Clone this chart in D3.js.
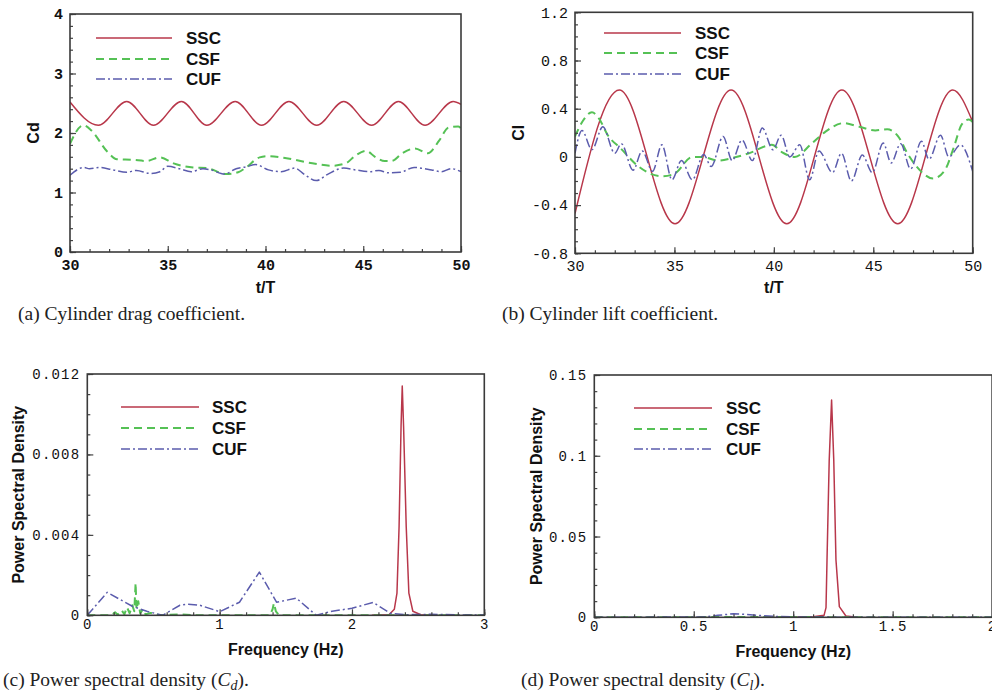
<!DOCTYPE html>
<html>
<head>
<meta charset="utf-8">
<script src="https://cdn.jsdelivr.net/npm/d3@7"></script>
<style>
  body { margin: 0; background: #fff; }
  svg { display: block; }
</style>
</head>
<body>
<div id="fig"></div>
<script>
// ---------- data ----------

// (a) drag coefficient vs t/T
const cdSSC = [[30,2.52],[31.45,2.13],[32.9,2.53],[34.27,2.13],[35.7,2.53],[37.0,2.13],[38.45,2.53],[39.8,2.13],[41.2,2.53],[42.62,2.13],[44.0,2.53],[45.43,2.13],[46.8,2.53],[48.16,2.13],[49.6,2.53],[50,2.48]]
const cdCSF = [[30,1.82],[30.68,2.13],[31.1,2.04],[31.9,1.69],[32.4,1.56],[33.2,1.55],[33.9,1.53],[34.6,1.59],[35.3,1.49],[36.3,1.42],[37.0,1.41],[38.0,1.31],[38.6,1.34],[39.0,1.42],[39.7,1.59],[40.1,1.61],[41.0,1.58],[42.4,1.49],[43.4,1.45],[44.1,1.49],[44.6,1.62],[45.15,1.70],[45.6,1.60],[46.1,1.53],[46.45,1.53],[47.0,1.66],[47.65,1.74],[48.3,1.66],[48.9,1.88],[49.35,2.09],[49.85,2.11],[50,2.08]]
const cdCUF = [[30,1.29],[30.7,1.42],[31.0,1.40],[31.5,1.42],[32.2,1.38],[32.9,1.34],[33.4,1.37],[34.1,1.32],[34.6,1.35],[35.0,1.44],[35.6,1.40],[36.2,1.35],[36.8,1.40],[37.2,1.38],[37.9,1.31],[38.5,1.40],[39.0,1.43],[39.5,1.47],[40.15,1.38],[40.8,1.35],[41.5,1.41],[42.0,1.30],[42.6,1.20],[43.2,1.31],[44.0,1.41],[44.6,1.38],[45.3,1.35],[45.8,1.37],[46.3,1.33],[46.9,1.34],[47.6,1.42],[48.5,1.38],[49.0,1.35],[49.5,1.40],[50,1.35]]

// (b) lift coefficient vs t/T
const clSSC = [[30,-0.47],[32.23,0.555],[35.03,-0.555],[37.85,0.555],[40.65,-0.555],[43.42,0.555],[46.23,-0.555],[49.0,0.555],[50,0.29]]
const clCSF = [[30,0.17],[30.4,0.30],[30.85,0.37],[31.2,0.32],[31.65,0.18],[32.3,0.07],[33.2,-0.08],[33.8,-0.14],[34.4,-0.16],[35.0,-0.14],[35.9,0.0],[36.4,0.0],[37.2,-0.03],[37.9,-0.01],[38.9,0.04],[39.6,0.09],[39.9,0.10],[40.4,0.04],[41.05,0.0],[41.9,0.11],[42.6,0.21],[43.5,0.28],[44.3,0.25],[45.1,0.22],[45.7,0.23],[46.25,0.17],[46.75,0.02],[47.4,-0.12],[48.0,-0.18],[48.6,-0.11],[49.05,0.08],[49.45,0.27],[49.8,0.31],[50,0.29]]
const clCUF = [[30,0.03],[30.35,0.22],[30.85,0.06],[31.4,0.25],[32.0,0.03],[32.33,0.11],[32.92,-0.11],[33.38,0.05],[33.9,-0.12],[34.37,0.10],[34.88,-0.19],[35.35,-0.03],[35.9,-0.19],[36.47,0.02],[36.85,-0.08],[37.45,0.17],[37.9,-0.03],[38.4,0.14],[38.92,-0.03],[39.42,0.24],[39.95,0.06],[40.37,0.18],[40.8,0.0],[41.3,0.10],[41.8,-0.19],[42.27,0.05],[42.95,-0.13],[43.4,0.03],[43.9,-0.2],[44.45,0.015],[44.95,-0.13],[45.5,0.115],[45.9,-0.05],[46.38,0.11],[46.88,-0.10],[47.42,0.13],[47.8,-0.02],[48.38,0.18],[48.8,0.0],[49.38,0.10],[50,-0.12]]

// (c) PSD of Cd vs frequency (Hz)
const cdPsdSSC = [[2.15,0],[2.28,0.00003],[2.32,0.0003],[2.34,0.0011],[2.356,0.0044],[2.371,0.0094],[2.38,0.0114],[2.39,0.0094],[2.41,0.0044],[2.43,0.0011],[2.46,0.0002],[2.52,0.00003],[2.6,0]]
const cdPsdCSF = [[0,0],[0.18,0],[0.21,0.00015],[0.23,0.00003],[0.26,0.00025],[0.28,0.00005],[0.3,0.0004],[0.32,0.0001],[0.34,0.0005],[0.355,0.0002],[0.365,0.0016],[0.372,0.0003],[0.385,0.0007],[0.4,0.0001],[0.42,0.0003],[0.44,0.00005],[0.48,0.00012],[0.55,0],[0.7,0.00005],[0.8,0],[1.38,0],[1.40,0.0003],[1.41,0.0006],[1.425,0.0002],[1.45,0],[3,0]]
const cdPsdCUF = [[0,0],[0.15,0.00114],[0.34,0.00045],[0.45,0.0002],[0.57,0],[0.7,0.0005],[0.75,0.00055],[0.85,0.0005],[1.0,0.00018],[1.15,0.00065],[1.3,0.00215],[1.43,0.00065],[1.58,0.00085],[1.73,0],[1.85,0.0002],[2.0,0.00035],[2.16,0.00064],[2.29,0.0001],[2.4,0.00003],[2.6,0.00005],[2.8,0.00002],[3.0,0.00002]]

// (d) PSD of Cl vs frequency (Hz)
const clPsdSSC = [[1.0,0],[1.1,0.0003],[1.155,0.0012],[1.165,0.006],[1.17,0.0355],[1.181,0.097],[1.193,0.1345],[1.204,0.097],[1.215,0.0355],[1.232,0.0066],[1.265,0.0008],[1.32,0]]
const clPsdCSF = [[0,0],[0.5,0.0001],[0.8,0.0002],[1.2,0.0001],[2,0]]
const clPsdCUF = [[0,0],[0.55,0.0002],[0.62,0.0012],[0.7,0.0022],[0.76,0.0018],[0.82,0.0012],[0.9,0.0006],[1.0,0.0002],[1.2,0.0001],[1.5,0],[2,0]]

const seriesNames = ["SSC", "CSF", "CUF"]

// tick values per panel
const cdTimeTicks = [30, 35, 40, 45, 50]
const cdTicks = [0, 1, 2, 3, 4]
const clTicks = [-0.8, -0.4, 0, 0.4, 0.8, 1.2]
const cdFreqTicks = [0, 1, 2, 3]
const cdPsdTicks = [0, 0.004, 0.008, 0.012]
const clFreqTicks = [0, 0.5, 1, 1.5, 2]
const clPsdTicks = [0, 0.05, 0.1, 0.15]

// ---------- styles ----------
const lineStyles = [
    { color: "#b8374a", width: 1.5, dash: null },
    { color: "#55c155", width: 2, dash: "8,5" },
    { color: "#5b5cad", width: 1.5, dash: "9,3,2,3" }
]

const svg = d3.select("#fig")
    .append("svg")
    .attr("width", 992)
    .attr("height", 695)

const fmt = d => d === 0 ? "0" : String(+d.toFixed(4))

// makes minor ticks between min and max with a given step
const minorTicks = (domain, step) => {
    const n = Math.round((domain[1] - domain[0]) / step)
    return d3.range(n + 1).map(i => +(domain[0] + i * step).toFixed(6))
}

function drawPanel(p, idx) {
    const x = d3.scaleLinear().domain(p.xDomain).range([p.left, p.right])
    const y = d3.scaleLinear().domain(p.yDomain).range([p.bottom, p.top])

    const g = svg.append("g")

    const clipId = "clip" + idx
    g.append("clipPath").attr("id", clipId)
        .append("rect")
        .attr("x", p.left).attr("y", p.top)
        .attr("width", p.right - p.left).attr("height", p.bottom - p.top)

    //-------- lines
    const lineGen = d3.line()
        .x(d => x(d[0]))
        .y(d => y(d[1]))
        .curve(p.curve)

    const lines = g.append("g").attr("clip-path", `url(#${clipId})`)
    p.series.forEach((s, i) => {
        lines.append("path")
            .attr("d", lineGen(s))
            .attr("fill", "none")
            .attr("stroke", lineStyles[i].color)
            .attr("stroke-width", lineStyles[i].width)
            .attr("stroke-dasharray", lineStyles[i].dash)
            .attr("stroke-linejoin", "round")
    })

    //-------- axes (ticks pointing inward)
    const xAxis = d3.axisBottom(x)
        .tickValues(p.xTicks)
        .tickSize(-6)
        .tickPadding(p.xPad)
        .tickFormat(fmt)
    const xMinor = d3.axisBottom(x)
        .tickValues(minorTicks(p.xDomain, p.xMinor))
        .tickSize(-3)
        .tickFormat("")
    const yAxis = d3.axisLeft(y)
        .tickValues(p.yTicks)
        .tickSize(-6)
        .tickPadding(7)
        .tickFormat(fmt)
    const yMinor = d3.axisLeft(y)
        .tickValues(minorTicks(p.yDomain, p.yMinor))
        .tickSize(-3)
        .tickFormat("")

    const axisStyle = sel => {
        sel.select(".domain").remove()
        sel.selectAll("line").attr("stroke", "#444").attr("stroke-width", 1.2)
        sel.selectAll("text")
            .attr("fill", "#111")
            .style("font-family", "'Liberation Mono', 'DejaVu Sans Mono', monospace")
            .style("font-size", p.tickFont + "px")
            .style("font-weight", p.tickWeight)
            .style("letter-spacing", p.tickSpacing + "px")
    }

    g.append("g").attr("transform", `translate(0,${p.bottom})`).call(xMinor).call(axisStyle)
    g.append("g").attr("transform", `translate(0,${p.bottom})`).call(xAxis).call(axisStyle)
    g.append("g").attr("transform", `translate(${p.left},0)`).call(yMinor).call(axisStyle)
    g.append("g").attr("transform", `translate(${p.left},0)`).call(yAxis).call(axisStyle)

    //-------- frame
    g.append("rect")
        .attr("x", p.left).attr("y", p.top)
        .attr("width", p.right - p.left).attr("height", p.bottom - p.top)
        .attr("fill", "none")
        .attr("stroke", "#3a3a3a")
        .attr("stroke-width", 1.6)

    //-------- legend
    seriesNames.forEach((name, i) => {
        const ly = p.legend.ys[i]
        g.append("line")
            .attr("x1", p.legend.x0).attr("x2", p.legend.x1)
            .attr("y1", ly).attr("y2", ly)
            .attr("stroke", lineStyles[i].color)
            .attr("stroke-width", lineStyles[i].width)
            .attr("stroke-dasharray", lineStyles[i].dash)
        g.append("text")
            .attr("x", p.legend.tx).attr("y", ly)
            .attr("dy", "0.36em")
            .style("font-family", "'Liberation Sans', Arial, sans-serif")
            .style("font-weight", "bold")
            .style("font-size", "17px")
            .attr("fill", "#111")
            .text(name)
    })

    //-------- axis titles
    g.append("text")
        .attr("x", (p.left + p.right) / 2)
        .attr("y", p.xTitleY)
        .attr("text-anchor", "middle")
        .style("font-family", "'Liberation Sans', Arial, sans-serif")
        .style("font-weight", "bold")
        .style("font-size", "16px")
        .attr("fill", "#111")
        .text(p.xTitle)

    g.append("text")
        .attr("transform", `translate(${p.yTitleX},${(p.top + p.bottom) / 2}) rotate(-90)`)
        .attr("text-anchor", "middle")
        .attr("dy", "0.36em")
        .style("font-family", "'Liberation Sans', Arial, sans-serif")
        .style("font-weight", "bold")
        .style("font-size", "16px")
        .attr("fill", "#111")
        .text(p.yTitle)

    //-------- caption
    const cap = g.append("text")
        .attr("x", p.captionX)
        .attr("y", p.captionY)
        .style("font-family", "'Liberation Serif', 'DejaVu Serif', serif")
        .style("font-size", "19.5px")
        .attr("fill", "#222")
    cap.append("tspan").text(p.caption[0])
    if (p.caption.length > 1) {
        cap.append("tspan").style("font-style", "italic").text("C")
        cap.append("tspan").style("font-style", "italic").style("font-size", "14px")
            .attr("dy", 4).text(p.caption[1])
        cap.append("tspan").attr("dy", -4).text(").")
    }
}

const panels = [
    {
        left: 70, right: 461, top: 14, bottom: 252,
        xDomain: [30, 50], yDomain: [0, 4],
        xTicks: cdTimeTicks, yTicks: cdTicks, xMinor: 1, yMinor: 0.2,
        series: [cdSSC, cdCSF, cdCUF], curve: d3.curveMonotoneX,
        tickFont: 15, tickWeight: "bold", tickSpacing: 0, xPad: 7,
        legend: { x0: 96, x1: 172, ys: [38, 59, 79], tx: 186 },
        xTitle: "t/T", xTitleY: 293, yTitle: "Cd", yTitleX: 33,
        caption: ["(a) Cylinder drag coefficient."], captionX: 18, captionY: 320
    },
    {
        left: 575, right: 972.7, top: 12.3, bottom: 253.3,
        xDomain: [30, 50], yDomain: [-0.8, 1.2],
        xTicks: cdTimeTicks, yTicks: clTicks, xMinor: 1, yMinor: 0.1,
        series: [clSSC, clCSF, clCUF], curve: d3.curveMonotoneX,
        tickFont: 15, tickWeight: "normal", tickSpacing: 0, xPad: 7,
        legend: { x0: 604, x1: 681, ys: [33, 53, 74], tx: 695 },
        xTitle: "t/T", xTitleY: 293, yTitle: "Cl", yTitleX: 518,
        caption: ["(b) Cylinder lift coefficient."], captionX: 502, captionY: 320
    },
    {
        left: 87.3, right: 484.3, top: 374, bottom: 615.3,
        xDomain: [0, 3], yDomain: [0, 0.012],
        xTicks: cdFreqTicks, yTicks: cdPsdTicks, xMinor: 0.2, yMinor: 0.001,
        series: [cdPsdSSC, cdPsdCSF, cdPsdCUF], curve: d3.curveLinear,
        tickFont: 14, tickWeight: "normal", tickSpacing: 1.2, xPad: 4,
        legend: { x0: 121, x1: 199, ys: [407, 428, 449], tx: 212 },
        xTitle: "Frequency (Hz)", xTitleY: 655, yTitle: "Power Spectral Density", yTitleX: 18,
        caption: ["(c) Power spectral density (", "d"], captionX: 3, captionY: 686
    },
    {
        left: 594.3, right: 992.1, top: 375, bottom: 617.3,
        xDomain: [0, 2], yDomain: [0, 0.15],
        xTicks: clFreqTicks, yTicks: clPsdTicks, xMinor: 0.1, yMinor: 0.01,
        series: [clPsdSSC, clPsdCSF, clPsdCUF], curve: d3.curveLinear,
        tickFont: 14, tickWeight: "normal", tickSpacing: 1.2, xPad: 4,
        legend: { x0: 634, x1: 712, ys: [408, 429, 449], tx: 726 },
        xTitle: "Frequency (Hz)", xTitleY: 657, yTitle: "Power Spectral Density", yTitleX: 536,
        caption: ["(d) Power spectral density (", "l"], captionX: 521, captionY: 686
    }
]

panels.forEach(drawPanel)
</script>
</body>
</html>
